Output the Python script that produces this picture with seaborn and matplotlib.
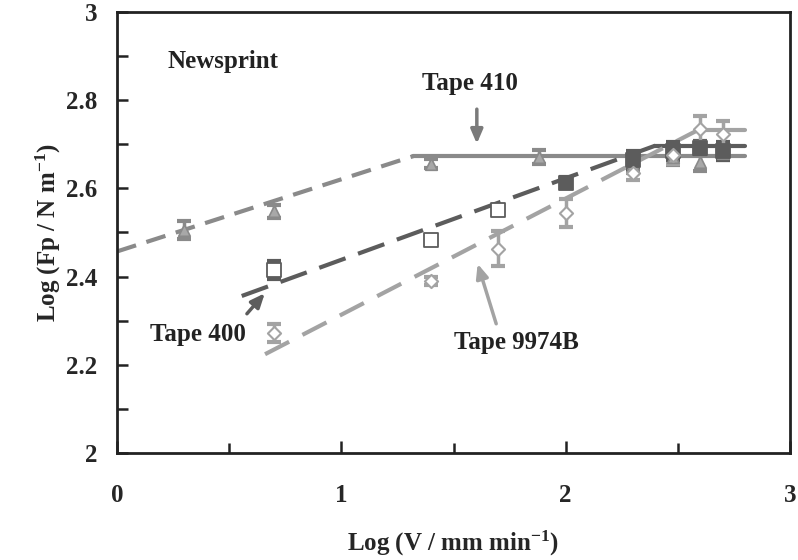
import numpy as np
import pandas as pd
import matplotlib
matplotlib.use("Agg")
import matplotlib.pyplot as plt
import seaborn as sns

# measured points (log speed vs log peel force)
speed_410 = [0.30, 0.70, 1.40, 1.88, 2.30, 2.48, 2.60, 2.70]
force_410 = [2.505, 2.548, 2.656, 2.671, 2.656, 2.672, 2.660, 2.680]
err_410 = [0.020, 0.015, 0.010, 0.015, 0.020, 0.020, 0.020, 0.015]

speed_400 = [0.70, 1.40, 1.70, 2.00, 2.30, 2.48, 2.60, 2.70]
force_400 = [2.415, 2.483, 2.552, 2.613, 2.665, 2.685, 2.692, 2.685]
err_400 = [0.020, 0.000, 0.000, 0.012, 0.020, 0.020, 0.015, 0.020]
filled_400 = [False, False, False, True, True, True, True, True]

speed_9974 = [0.70, 1.40, 1.70, 2.00, 2.30, 2.48, 2.60, 2.70]
force_9974 = [2.272, 2.390, 2.463, 2.545, 2.635, 2.675, 2.735, 2.723]
err_9974 = [0.020, 0.010, 0.040, 0.032, 0.015, 0.020, 0.030, 0.030]

# fitted lines: dashed rising part, then solid plateau
fit_410_dash_x = [0.0, 1.32]
fit_410_dash_y = [2.457, 2.673]
fit_410_flat_x = [1.32, 2.80]
fit_410_flat_y = [2.673, 2.673]

fit_400_dash_x = [0.556, 2.40]
fit_400_dash_y = [2.356, 2.697]
fit_400_flat_x = [2.40, 2.80]
fit_400_flat_y = [2.697, 2.697]

fit_9974_dash_x = [0.66, 2.60]
fit_9974_dash_y = [2.224, 2.735]
fit_9974_flat_x = [2.60, 2.80]
fit_9974_flat_y = [2.733, 2.733]

c410 = "#8a8a8a"
c400 = "#5c5c5c"
c9974 = "#a3a3a3"

sns.set_theme(style="white")
plt.rcParams['font.family'] = ['Liberation Serif', 'DejaVu Serif']
plt.rcParams['font.weight'] = 'bold'
plt.rcParams['mathtext.default'] = 'regular'

fig = plt.figure(figsize=(7.98, 5.6), dpi=100)
ax = fig.add_axes([117/798, 107/560, 673/798, 441/560])

# fit lines
sns.lineplot(x=fit_410_dash_x, y=fit_410_dash_y, ax=ax, color=c410, lw=3, dashes=False,
             linestyle=(0, (4.8, 2.6)))
sns.lineplot(x=fit_410_flat_x, y=fit_410_flat_y, ax=ax, color=c410, lw=3)
sns.lineplot(x=fit_400_dash_x, y=fit_400_dash_y, ax=ax, color=c400, lw=3, dashes=False,
             linestyle=(0, (6.7, 3.2)))
sns.lineplot(x=fit_400_flat_x, y=fit_400_flat_y, ax=ax, color=c400, lw=3)
sns.lineplot(x=fit_9974_dash_x, y=fit_9974_dash_y, ax=ax, color=c9974, lw=3, dashes=False,
             linestyle=(0, (6.5, 3.6)))
sns.lineplot(x=fit_9974_flat_x, y=fit_9974_flat_y, ax=ax, color=c9974, lw=3)

# error bars
ax.errorbar(speed_410, force_410, yerr=err_410, fmt='none', ecolor=c410,
            elinewidth=2.5, capsize=5, capthick=3, zorder=3)
ax.errorbar(speed_400, force_400, yerr=err_400, fmt='none', ecolor=c400,
            elinewidth=2.5, capsize=5, capthick=3, zorder=3)
ax.errorbar(speed_9974, force_9974, yerr=err_9974, fmt='none', ecolor=c9974,
            elinewidth=2.5, capsize=5, capthick=3, zorder=3)

# markers
sns.scatterplot(x=speed_410, y=force_410, ax=ax, marker='^', s=70, color="#a8a8a8",
                edgecolor=c410, linewidth=1.2, zorder=4)
df400 = pd.DataFrame({'x': speed_400, 'y': force_400, 'filled': filled_400})
sns.scatterplot(data=df400[~df400['filled']], x='x', y='y', ax=ax, marker='s', s=110,
                facecolor='white', edgecolor=c400, linewidth=1.3, zorder=4)
sns.scatterplot(data=df400[df400['filled']], x='x', y='y', ax=ax, marker='s', s=110,
                color=c400, edgecolor=c400, linewidth=1.3, zorder=4)
sns.scatterplot(x=speed_9974, y=force_9974, ax=ax, marker='D', s=45, facecolor='white',
                edgecolor=c9974, linewidth=1.5, zorder=5)

# annotations
fs = 18
ax.text(0.223, 2.887, "Newsprint", fontsize=fs, fontweight='bold', va='center', ha='left', color='#222222')
ax.text(1.574, 2.839, "Tape 410", fontsize=fs, fontweight='bold', va='center', ha='center', color='#222222')
ax.annotate("", xy=(1.604, 2.695), xytext=(1.604, 2.786),
            arrowprops=dict(arrowstyle='-|>,head_length=0.7,head_width=0.3', color='#7a7a7a', lw=2.5))
ax.text(0.361, 2.269, "Tape 400", fontsize=fs, fontweight='bold', va='center', ha='center', color='#222222')
ax.annotate("", xy=(0.667, 2.367), xytext=(0.571, 2.311),
            arrowprops=dict(arrowstyle='-|>,head_length=0.7,head_width=0.3', color=c400, lw=2.5))
ax.text(1.781, 2.251, "Tape 9974B", fontsize=fs, fontweight='bold', va='center', ha='center', color='#222222')
ax.annotate("", xy=(1.604, 2.435), xytext=(1.694, 2.287),
            arrowprops=dict(arrowstyle='-|>,head_length=0.7,head_width=0.3', color=c9974, lw=2.5))

ax.set_xlim(0, 3)
ax.set_ylim(2, 3)
ax.set_xticks([0, 1, 2, 3])
ax.set_xticks([0.5, 1.5, 2.5], minor=True)
ax.set_yticks([2, 2.2, 2.4, 2.6, 2.8, 3])
ax.set_yticklabels(["2", "2.2", "2.4", "2.6", "2.8", "3"])
ax.set_yticks(np.arange(2.1, 3.0, 0.2), minor=True)
ax.tick_params(axis='both', which='both', direction='in', color='#222222', width=1.8,
               labelsize=fs, top=False, right=False, bottom=True, left=True)
ax.tick_params(axis='x', which='major', length=9, pad=22)
ax.tick_params(axis='x', which='minor', length=7)
ax.tick_params(axis='y', which='both', length=8, pad=14)
for lab in ax.get_xticklabels() + ax.get_yticklabels():
    lab.set_fontweight('bold')
for sp in ax.spines.values():
    sp.set_color('#222222')
    sp.set_linewidth(2)

ax.set_xlabel("Log (V / mm min$^{-1}$)", fontsize=fs, fontweight='bold', labelpad=16)
ax.set_ylabel("Log (Fp / N m$^{-1}$)", fontsize=fs, fontweight='bold', labelpad=2)

fig.savefig("out.png", dpi=100)
